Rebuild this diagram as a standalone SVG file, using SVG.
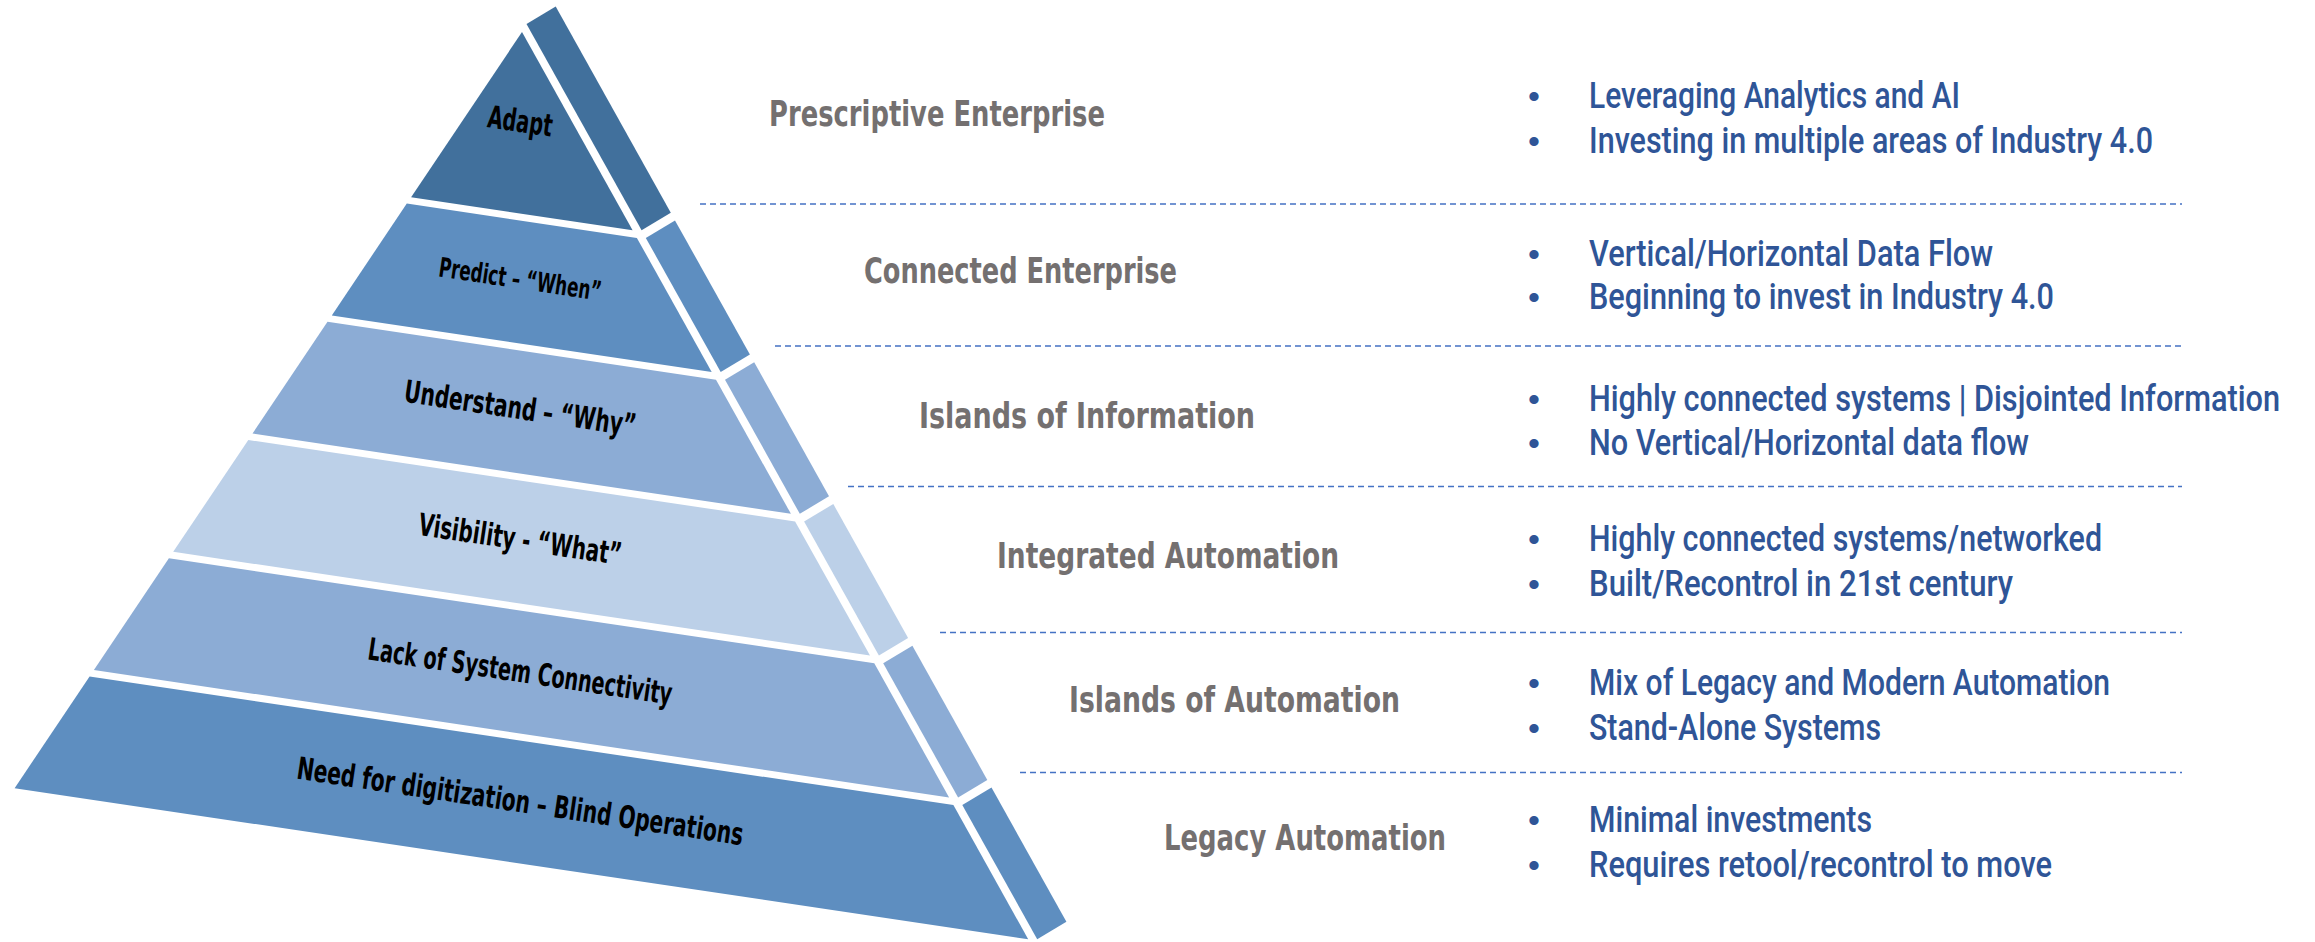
<svg xmlns="http://www.w3.org/2000/svg" width="2315" height="942" viewBox="0 0 2315 942">
<style>
.c1{fill:#41709C}
.c2{fill:#5E8EC0}
.c3{fill:#8CACD5}
.c4{fill:#BCD0E8}
.pt{font-family:"Liberation Sans Narrow","DejaVu Sans Condensed","Liberation Sans",sans-serif;font-weight:bold;fill:#000;text-anchor:middle}
.lab{font-family:"Liberation Sans Narrow","DejaVu Sans Condensed","Liberation Sans",sans-serif;font-weight:bold;fill:#747070;font-size:36px}
.bul{font-family:Roboto,"Liberation Sans Narrow","DejaVu Sans Condensed",sans-serif;font-weight:500;fill:#2F5597;font-size:37px}
.dot{font-family:"Liberation Sans","DejaVu Sans",sans-serif;fill:#2F5597;font-size:34px;text-anchor:middle}
.sep{stroke:#4472C4;stroke-width:1.6;stroke-dasharray:6 4;fill:none}
</style>
<rect width="2315" height="942" fill="#FFFFFF"/>
<g id="tier-adapt">
<polygon class="c1" points="522,32 632.6,230.3 411.1,197.3"/>
<polygon class="c1" points="526.5,24 555.7,6.5 670.8,212.8 641.6,230.3"/>
<text class="pt" x="520" y="132" font-size="31" textLength="65" lengthAdjust="spacingAndGlyphs" transform="rotate(8.5 520 123)">Adapt</text>
</g>
<g id="tier-predict">
<polygon class="c2" points="406.8,203.6 636.9,237.9 711.7,372 331.8,315.4"/>
<polygon class="c2" points="645.8,237.9 675,220.4 749.9,354.5 720.7,372"/>
<text class="pt" x="520" y="288.5" font-size="27" textLength="164" lengthAdjust="spacingAndGlyphs" transform="rotate(8.5 520 281)">Predict – “When”</text>
</g>
<g id="tier-understand">
<polygon class="c3" points="327.5,321.8 716,379.7 790.9,513.8 252.5,433.6"/>
<polygon class="c3" points="725,379.7 754.2,362.2 829,496.3 799.8,513.8"/>
<text class="pt" x="520" y="419" font-size="31" textLength="234" lengthAdjust="spacingAndGlyphs" transform="rotate(8.5 520 410)">Understand – “Why”</text>
</g>
<g id="tier-visibility">
<polygon class="c4" points="248.3,440 795.1,521.5 870,655.6 173.2,551.8"/>
<polygon class="c4" points="804.1,521.5 833.3,504 908.1,638.1 878.9,655.6"/>
<text class="pt" x="520" y="550" font-size="31" textLength="205" lengthAdjust="spacingAndGlyphs" transform="rotate(8.5 520 541)">Visibility - “What”</text>
</g>
<g id="tier-lack">
<polygon class="c3" points="168.9,558.2 874.3,663.3 949.1,797.4 93.9,670"/>
<polygon class="c3" points="883.2,663.3 912.4,645.8 987.3,779.9 958.1,797.4"/>
<text class="pt" x="520" y="682" font-size="31" textLength="307" lengthAdjust="spacingAndGlyphs" transform="rotate(8.5 520 673)">Lack of System Connectivity</text>
</g>
<g id="tier-need">
<polygon class="c2" points="89.6,676.4 953.4,805.1 1028.2,939.2 14.6,788.2"/>
<polygon class="c2" points="962.3,805.1 991.5,787.6 1066.4,921.7 1037.2,939.2"/>
<text class="pt" x="520" y="812" font-size="31" textLength="451" lengthAdjust="spacingAndGlyphs" transform="rotate(8.5 520 803)">Need for digitization – Blind Operations</text>
</g>
<g id="separators">
<line class="sep" x1="700" y1="204" x2="2182" y2="204"/>
<line class="sep" x1="775" y1="346" x2="2182" y2="346"/>
<line class="sep" x1="848" y1="486.5" x2="2182" y2="486.5"/>
<line class="sep" x1="940" y1="632.5" x2="2182" y2="632.5"/>
<line class="sep" x1="1020" y1="772.5" x2="2182" y2="772.5"/>
</g>
<g id="label-prescriptive"><text class="lab" x="769" y="126" textLength="336" lengthAdjust="spacingAndGlyphs">Prescriptive Enterprise</text></g>
<g id="label-connected"><text class="lab" x="864" y="283" textLength="313" lengthAdjust="spacingAndGlyphs">Connected Enterprise</text></g>
<g id="label-islands-info"><text class="lab" x="919" y="428" textLength="336" lengthAdjust="spacingAndGlyphs">Islands of Information</text></g>
<g id="label-integrated"><text class="lab" x="997" y="568" textLength="342" lengthAdjust="spacingAndGlyphs">Integrated Automation</text></g>
<g id="label-islands-auto"><text class="lab" x="1069" y="712" textLength="331" lengthAdjust="spacingAndGlyphs">Islands of Automation</text></g>
<g id="label-legacy"><text class="lab" x="1164" y="850" textLength="282" lengthAdjust="spacingAndGlyphs">Legacy Automation</text></g>
<g id="bullets-prescriptive">
<text class="dot" x="1534" y="108">•</text><text class="bul" x="1589" y="108" textLength="371" lengthAdjust="spacingAndGlyphs">Leveraging Analytics and AI</text>
<text class="dot" x="1534" y="153">•</text><text class="bul" x="1589" y="153" textLength="564" lengthAdjust="spacingAndGlyphs">Investing in multiple areas of Industry 4.0</text>
</g>
<g id="bullets-connected">
<text class="dot" x="1534" y="266">•</text><text class="bul" x="1589" y="266" textLength="404" lengthAdjust="spacingAndGlyphs">Vertical/Horizontal Data Flow</text>
<text class="dot" x="1534" y="309">•</text><text class="bul" x="1589" y="309" textLength="465" lengthAdjust="spacingAndGlyphs">Beginning to invest in Industry 4.0</text>
</g>
<g id="bullets-islands-info">
<text class="dot" x="1534" y="411">•</text><text class="bul" x="2118.67" y="411" textLength="921.33" lengthAdjust="spacingAndGlyphs" transform="scale(0.75 1)">Highly connected systems | Disjointed Information</text>
<text class="dot" x="1534" y="455">•</text><text class="bul" x="1589" y="455" textLength="440" lengthAdjust="spacingAndGlyphs">No Vertical/Horizontal data flow</text>
</g>
<g id="bullets-integrated">
<text class="dot" x="1534" y="551">•</text><text class="bul" x="1589" y="551" textLength="513" lengthAdjust="spacingAndGlyphs">Highly connected systems/networked</text>
<text class="dot" x="1534" y="596">•</text><text class="bul" x="1589" y="596" textLength="424" lengthAdjust="spacingAndGlyphs">Built/Recontrol in 21st century</text>
</g>
<g id="bullets-islands-auto">
<text class="dot" x="1534" y="695">•</text><text class="bul" x="1589" y="695" textLength="521" lengthAdjust="spacingAndGlyphs">Mix of Legacy and Modern Automation</text>
<text class="dot" x="1534" y="740">•</text><text class="bul" x="1589" y="740" textLength="292" lengthAdjust="spacingAndGlyphs">Stand-Alone Systems</text>
</g>
<g id="bullets-legacy">
<text class="dot" x="1534" y="832">•</text><text class="bul" x="1589" y="832" textLength="283" lengthAdjust="spacingAndGlyphs">Minimal investments</text>
<text class="dot" x="1534" y="877">•</text><text class="bul" x="1589" y="877" textLength="463" lengthAdjust="spacingAndGlyphs">Requires retool/recontrol to move</text>
</g>
</svg>
